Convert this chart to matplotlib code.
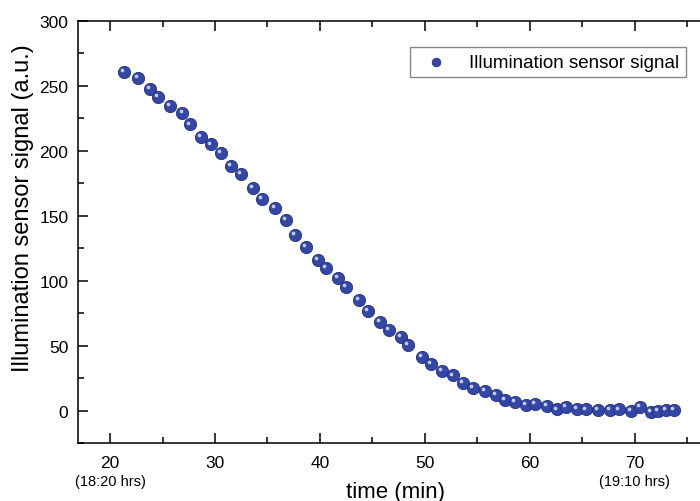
import numpy as np
import matplotlib

matplotlib.use("Agg")
import matplotlib.pyplot as plt
from matplotlib import transforms
from matplotlib.ticker import MultipleLocator

plt.rcParams.update({"font.family": ["Liberation Sans", "DejaVu Sans"],
                     "font.size": 12.5})

# values
time_min = [21.3, 22.7, 23.8, 24.6, 25.7, 26.9, 27.6, 28.7, 29.6, 30.6,
            31.5, 32.5, 33.6, 34.5, 35.7, 36.8, 37.6, 38.7, 39.8, 40.6,
            41.7, 42.5, 43.7, 44.6, 45.7, 46.6, 47.7, 48.4, 49.7, 50.6,
            51.6, 52.7, 53.6, 54.6, 55.7, 56.8, 57.6, 58.6, 59.6, 60.5,
            61.6, 62.6, 63.4, 64.5, 65.3, 66.5, 67.6, 68.5, 69.6, 70.5,
            71.5, 72.2, 73.0, 73.7]
signal = [261.1, 256.0, 248.0, 241.3, 234.2, 229.0, 220.3, 211.0, 204.9, 198.2,
          188.4, 182.2, 171.7, 163.2, 155.7, 146.5, 134.9, 125.7, 116.2, 109.5,
          102.0, 94.8, 85.0, 76.6, 68.4, 61.7, 56.5, 50.4, 40.9, 36.0,
          30.8, 27.0, 21.4, 17.5, 14.9, 12.3, 7.9, 6.4, 4.1, 5.4,
          3.3, 0.8, 2.5, 1.3, 0.8, 0.5, 0.5, 0.8, 0.0, 2.5,
          -1.0, -0.5, 0.2, 0.2]
clock_ticks = [20, 70]
clock_labels = ["(18:20 hrs)", "(19:10 hrs)"]

fig = plt.figure(figsize=(7.0, 5.02), dpi=100)
ax = fig.add_axes([78 / 700, 58 / 502, 622 / 700, 422 / 502])

ax.scatter(time_min, signal, s=78, color="#3447a6", edgecolor="#24317e",
           linewidth=0.6, zorder=3, label="Illumination sensor signal")
# small highlight to give the markers a shaded look
hl = transforms.offset_copy(ax.transData, fig=fig, x=-1.4, y=1.4, units="points")
ax.scatter(time_min, signal, s=7, color="#c4cbf2", linewidth=0,
           transform=hl, zorder=4)

ax.set_xlim(16.95, 76.2)
ax.set_ylim(-25, 300)
ax.xaxis.set_major_locator(MultipleLocator(10))
ax.xaxis.set_minor_locator(MultipleLocator(5))
ax.yaxis.set_major_locator(MultipleLocator(50))
ax.yaxis.set_minor_locator(MultipleLocator(25))
ax.tick_params(which="both", direction="in", top=True, right=False,
               width=1.1, labelsize=12.5)
ax.tick_params(which="major", length=7)
ax.tick_params(which="minor", length=4)
ax.tick_params(axis="x", pad=9)
ax.tick_params(axis="y", pad=7)
for s in ["left", "bottom", "top"]:
    ax.spines[s].set_linewidth(1.1)
ax.spines["right"].set_visible(False)

ax.set_xlabel("time (min)", fontsize=16)
ax.xaxis.set_label_coords(0.511, -0.09)
ax.set_ylabel("Illumination sensor signal (a.u.)", fontsize=17)
ax.yaxis.set_label_coords(-0.07, 0.56)

tr = transforms.blended_transform_factory(ax.transData, ax.transAxes)
for xv, lab in zip(clock_ticks, clock_labels):
    ax.text(xv, -0.09, lab, transform=tr, ha="center", va="center",
            fontsize=10.5)

leg = ax.legend(loc="upper right", bbox_to_anchor=(0.9775, 0.938), fontsize=13.5,
                fancybox=False, framealpha=1, edgecolor="#888888",
                handletextpad=0.8, borderpad=0.35, borderaxespad=0,
                markerscale=0.7)
leg.get_frame().set_linewidth(1.0)

fig.savefig("out.png", dpi=100)
